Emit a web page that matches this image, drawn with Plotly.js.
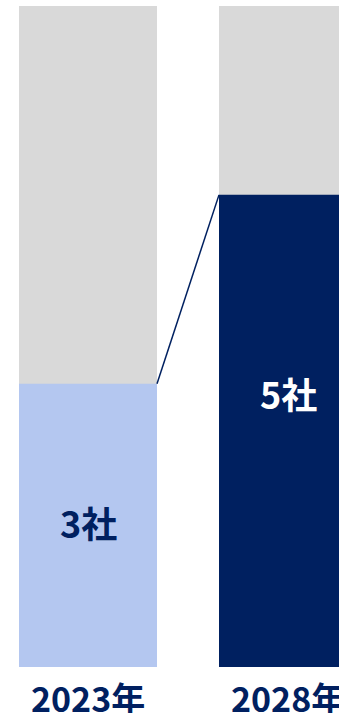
<!DOCTYPE html>
<html><head><meta charset="utf-8">
<script src="https://cdn.plot.ly/plotly-3.0.1.min.js"></script>
<style>html,body{margin:0;padding:0;background:#fff;}#chart{width:339px;height:713px;}</style>
</head><body><div id="chart"></div>
<script>
const years = ["2023年", "2028年"];
const companies = [3, 5];
const totals = [7, 7];
const labels = ["3社", "5社"];

const xs = [0, 1];
const barWidth = 0.69;
const FONT = '"Noto Sans CJK JP", "Noto Sans", sans-serif';
const NAVY = '#002060';

const traces = [
  {type: 'bar', x: xs, y: totals, width: barWidth, marker: {color: '#d9d9d9'}, hoverinfo: 'skip'},
  {type: 'bar', x: xs, y: companies, width: barWidth, marker: {color: ['#b4c7f0', NAVY]}, hoverinfo: 'skip'},
  {type: 'scatter', mode: 'lines',
   x: [xs[0] + barWidth / 2, xs[1] - barWidth / 2],
   y: [companies[0], companies[1]],
   line: {color: NAVY, width: 1.5}, hoverinfo: 'skip'}
];

const shifts = [3, 38];
const annotations = labels.map((t, i) => ({
  x: xs[i], y: companies[i] / 2, xref: 'x', yref: 'y', text: '<b>' + t + '</b>', showarrow: false,
  yshift: shifts[i],
  font: {family: FONT, size: 36, color: i === 0 ? NAVY : '#ffffff'}
})).concat(years.map((t, i) => ({
  x: xs[i], y: 0, xref: 'x', yref: 'paper', yanchor: 'middle', yshift: -30,
  text: '<b>' + t + '</b>', showarrow: false,
  font: {family: FONT, size: 34, color: NAVY}
})));

const layout = {
  width: 339, height: 713,
  margin: {l: 0, r: 0, t: 6, b: 46},
  barmode: 'overlay', showlegend: false,
  paper_bgcolor: '#fff', plot_bgcolor: '#fff',
  xaxis: {range: [-0.44, 1.255], showticklabels: false,
          showgrid: false, zeroline: false, showline: false, ticks: '', fixedrange: true},
  yaxis: {range: [0, 7], visible: false, fixedrange: true},
  annotations: annotations
};
Plotly.newPlot('chart', traces, layout, {displayModeBar: false, staticPlot: true});
</script></body></html>
